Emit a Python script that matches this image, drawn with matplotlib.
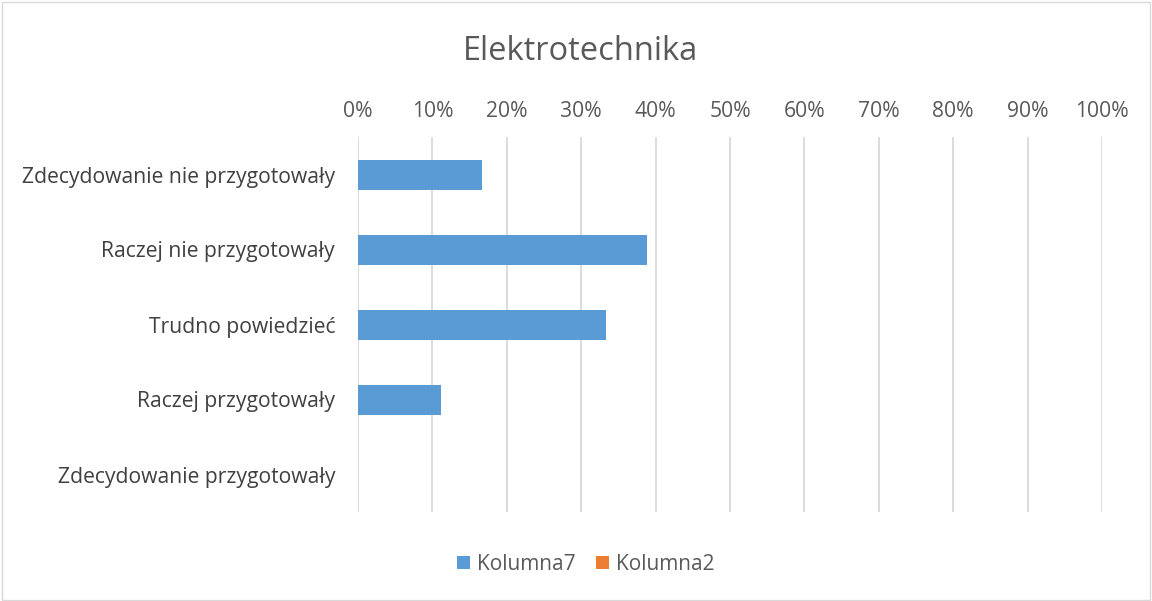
import matplotlib
matplotlib.use("Agg")
import matplotlib.pyplot as plt
from matplotlib.patches import Patch, Rectangle

categories = ["Zdecydowanie nie przygotowały", "Raczej nie przygotowały",
              "Trudno powiedzieć", "Raczej przygotowały", "Zdecydowanie przygotowały"]
kolumna7 = [0.1667, 0.3889, 0.3333, 0.1111, 0.0]
series_names = ["Kolumna7", "Kolumna2"]
colors = ["#5B9BD5", "#ED7D31"]
title = "Elektrotechnika"

plt.rcParams['font.family'] = ['Open Sans', 'DejaVu Sans']
fig = plt.figure(figsize=(11.52, 6.01), dpi=100)
ax = fig.add_axes([358/1152, 1-512/601, (1102-358)/1152, (512-137)/601])

y = list(range(len(categories)))
ax.barh(y, kolumna7, height=0.4, color=colors[0], zorder=3)
ax.set_ylim(len(categories)-0.5, -0.5)
ax.set_xlim(0, 1)
ax.set_yticks(y)
ax.set_yticklabels(categories, fontsize=15.2, color="#404040")
ticks = [i/10 for i in range(11)]
ax.set_xticks(ticks)
ax.set_xticklabels([f"{int(t*100)}%" for t in ticks], fontsize=15.2, color="#595959")
ax.xaxis.tick_top()
ax.tick_params(axis='both', length=0)
ax.tick_params(axis='x', pad=11)
ax.tick_params(axis='y', pad=16.5)
ax.grid(axis='x', color="#D9D9D9", linewidth=1.3, zorder=0)
for s in ax.spines.values():
    s.set_visible(False)

fig.text(581/1152, 1-52/601, title, ha='center', va='center', fontsize=23.5, color="#595959")
handles = [Patch(facecolor=c, edgecolor='none') for c in colors]
fig.legend(handles, series_names, loc='center', bbox_to_anchor=(586/1152, 1-564/601),
           ncol=2, frameon=False, fontsize=15, handlelength=0.6, handleheight=0.6,
           handletextpad=0.35, columnspacing=1.0, labelcolor="#595959")
fig.patches.append(Rectangle((0.002, 0.002), 0.996, 0.994, transform=fig.transFigure,
                             fill=False, edgecolor="#D9D9D9", linewidth=1))
fig.savefig("out.png", dpi=100)
